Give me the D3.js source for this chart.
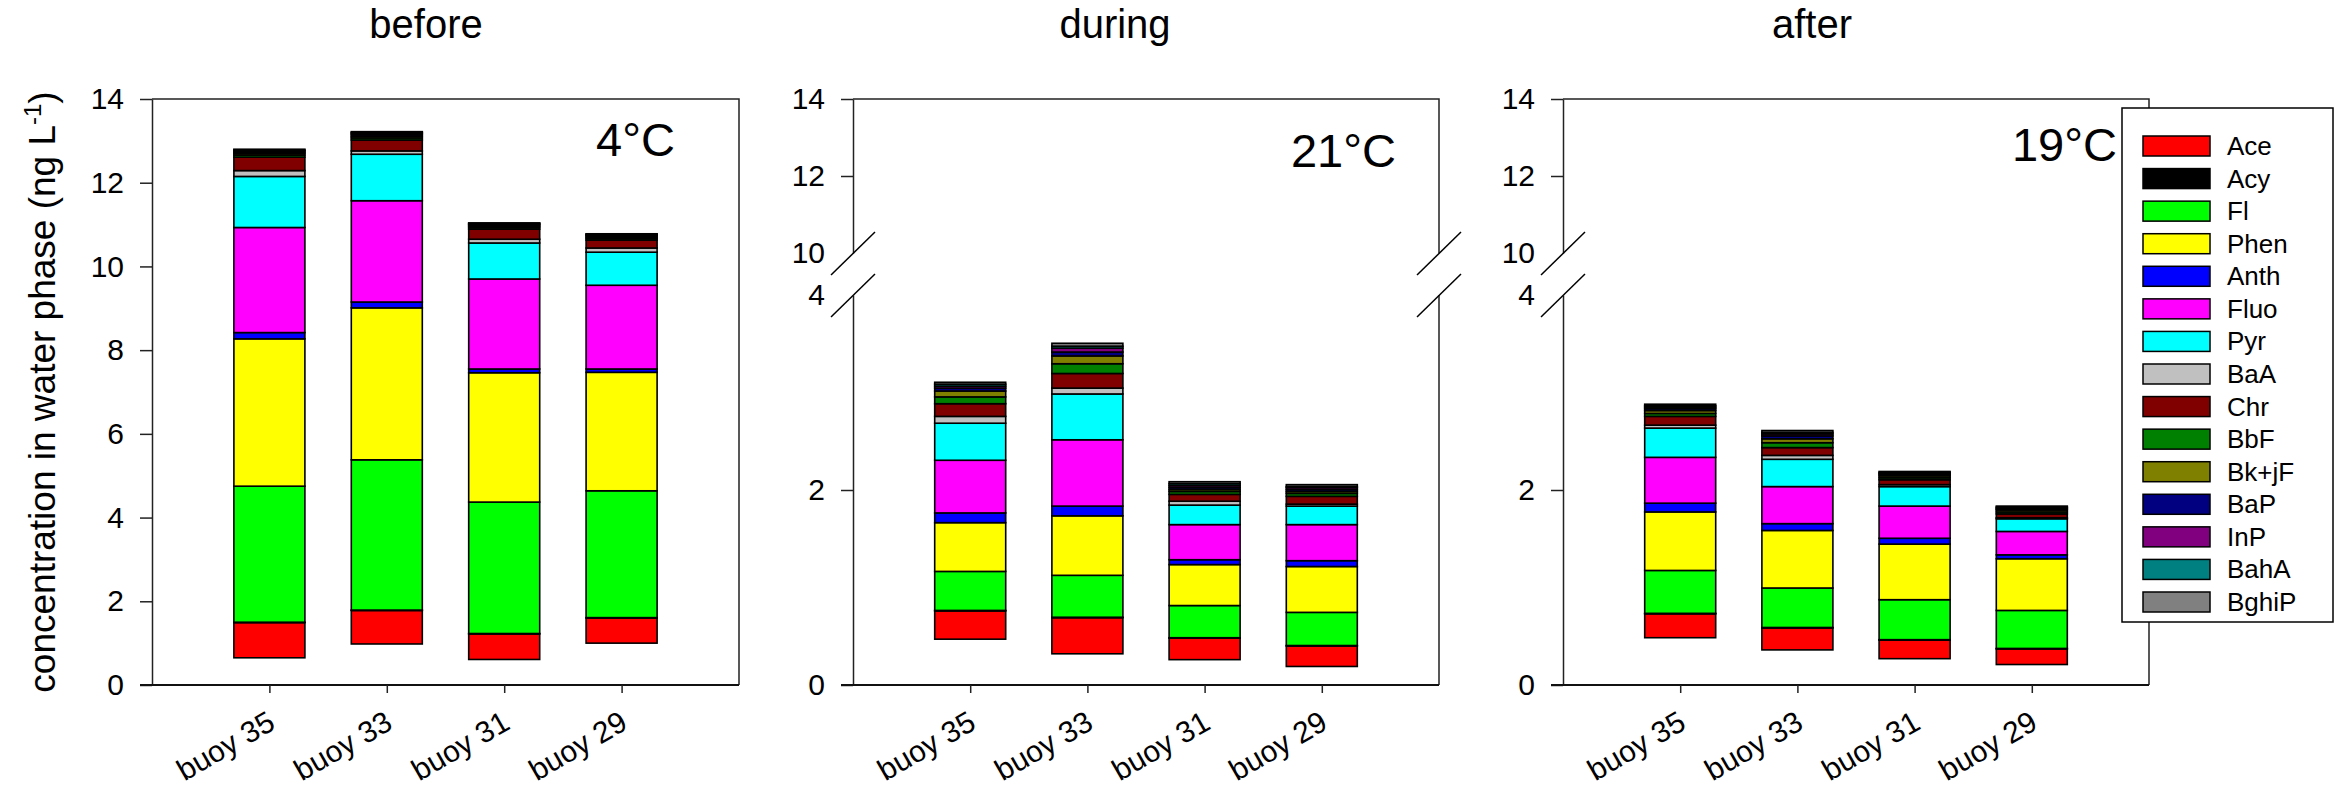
<!DOCTYPE html>
<html>
<head>
<meta charset="utf-8">
<script src="https://cdn.jsdelivr.net/npm/d3@7"></script>
<style>
  body { margin: 0; background: #fff; }
  svg { display: block; font-family: "Liberation Sans", Arial, sans-serif; }
</style>
</head>
<body>
<svg id="chart" width="2346" height="788"></svg>
<script>
const compounds = ["Ace", "Acy", "Fl", "Phen", "Anth", "Fluo", "Pyr", "BaA", "Chr", "BbF", "Bk+jF", "BaP", "InP", "BahA", "BghiP"];
const colors = ["#ff0000", "#000000", "#00ff00", "#ffff00", "#0000ff", "#ff00ff", "#00ffff", "#c0c0c0",
    "#800000", "#008000", "#808000", "#000080", "#800080", "#008080", "#808080"];
const buoys = ["buoy 35", "buoy 33", "buoy 31", "buoy 29"];
const periods = ["before", "during", "after"];
const temps = ["4°C", "21°C", "19°C"];

// unfilled lower part of each bar (bars do not start at zero)
const baseBefore = [0.65, 0.98, 0.61, 1.00];
const baseDuring = [0.47, 0.32, 0.26, 0.19];
const baseAfter = [0.485, 0.36, 0.27, 0.21];

// one row per compound, one value per buoy (ng/L)
const before = [
    [0.84, 0.80, 0.61, 0.60],
    [0.01, 0.01, 0.01, 0.01],
    [3.25, 3.59, 3.14, 3.03],
    [3.52, 3.63, 3.09, 2.83],
    [0.15, 0.14, 0.09, 0.08],
    [2.51, 2.42, 2.15, 2.00],
    [1.22, 1.11, 0.86, 0.79],
    [0.14, 0.08, 0.09, 0.10],
    [0.32, 0.26, 0.24, 0.19],
    [0.05, 0.05, 0.04, 0.04],
    [0.04, 0.04, 0.03, 0.03],
    [0.03, 0.04, 0.03, 0.03],
    [0.03, 0.03, 0.02, 0.02],
    [0.02, 0.02, 0.02, 0.02],
    [0.02, 0.02, 0.01, 0.01]
];
const during = [
    [0.29, 0.37, 0.22, 0.21],
    [0.005, 0.005, 0.005, 0.005],
    [0.40, 0.43, 0.33, 0.34],
    [0.50, 0.61, 0.42, 0.47],
    [0.10, 0.10, 0.05, 0.06],
    [0.54, 0.68, 0.36, 0.37],
    [0.38, 0.47, 0.20, 0.19],
    [0.07, 0.06, 0.04, 0.02],
    [0.13, 0.15, 0.07, 0.08],
    [0.07, 0.10, 0.03, 0.03],
    [0.06, 0.08, 0.02, 0.02],
    [0.03, 0.04, 0.02, 0.02],
    [0.02, 0.04, 0.02, 0.02],
    [0.02, 0.02, 0.02, 0.01],
    [0.02, 0.03, 0.02, 0.02]
];
const after = [
    [0.245, 0.225, 0.19, 0.16],
    [0.005, 0.005, 0.005, 0.005],
    [0.44, 0.405, 0.41, 0.39],
    [0.60, 0.59, 0.57, 0.53],
    [0.09, 0.07, 0.06, 0.04],
    [0.47, 0.38, 0.33, 0.24],
    [0.30, 0.28, 0.20, 0.13],
    [0.03, 0.04, 0.02, 0.01],
    [0.09, 0.08, 0.05, 0.04],
    [0.03, 0.05, 0.02, 0.02],
    [0.03, 0.04, 0.02, 0.02],
    [0.02, 0.03, 0.015, 0.01],
    [0.015, 0.02, 0.01, 0.01],
    [0.015, 0.015, 0.01, 0.01],
    [0.015, 0.02, 0.01, 0.01]
];

const yTicksFull = [0, 2, 4, 6, 8, 10, 12, 14];
const yTicksLow = [0, 2, 4];
const yTicksHigh = [10, 12, 14];

const svg = d3.select('#chart');
svg.append('rect').attr('width', 2346).attr('height', 788).attr('fill', '#fff');

const plotTop = 99, plotBottom = 685;
const panels = [
    {left: 152, right: 739, data: before, base: baseBefore, broken: false, titleX: 426, tempX: 675, tempY: 156},
    {left: 853, right: 1439, data: during, base: baseDuring, broken: true, titleX: 1115, tempX: 1396, tempY: 167},
    {left: 1563, right: 2149, data: after, base: baseAfter, broken: true, titleX: 1812, tempX: 2117, tempY: 161}
];

const axisColor = '#222';

panels.forEach((p, pi) => {
    const g = svg.append('g');

    const x = d3.scalePoint().domain(buoys).range([p.left, p.right]).padding(1);
    let yLow, yHigh;
    if (p.broken) {
        yLow = d3.scaleLinear().domain([0, 4]).range([plotBottom, 295]);
        yHigh = d3.scaleLinear().domain([10, 14]).range([253, plotTop]);
    } else {
        yLow = d3.scaleLinear().domain([0, 14]).range([plotBottom, plotTop]);
    }

    // build table and stack
    const keys = ['base'].concat(compounds);
    const table = buoys.map((b, i) => {
        const row = {buoy: b, base: p.base[i]};
        compounds.forEach((c, ci) => { row[c] = p.data[ci][i]; });
        return row;
    });
    const series = d3.stack().keys(keys)(table);

    const barW = 71;
    series.slice(1).forEach((s, si) => {
        g.append('g')
            .selectAll('rect')
            .data(s)
            .join('rect')
            .attr('x', d => x(d.data.buoy) - barW / 2)
            .attr('y', d => yLow(d[1]))
            .attr('width', barW)
            .attr('height', d => yLow(d[0]) - yLow(d[1]))
            .attr('fill', colors[si])
            .attr('stroke', '#000')
            .attr('stroke-width', 1.6);
    });

    // frame: top and right
    if (p.broken) {
        g.append('path')
            .attr('d', `M${p.left},${plotTop}H${p.right}V${yHigh(10)}M${p.right},${yLow(4)}V${plotBottom}`)
            .attr('fill', 'none').attr('stroke', axisColor).attr('stroke-width', 1.5);
    } else {
        g.append('path')
            .attr('d', `M${p.left},${plotTop}H${p.right}V${plotBottom}`)
            .attr('fill', 'none').attr('stroke', axisColor).attr('stroke-width', 1.5);
    }

    // y axis
    const styleAxis = sel => {
        sel.select('.domain').attr('stroke', axisColor).attr('stroke-width', 1.5);
        sel.selectAll('.tick line').attr('stroke', axisColor).attr('stroke-width', 1.5);
        sel.selectAll('.tick text').attr('font-size', 30).attr('fill', '#000')
            .attr('font-family', '"Liberation Sans", Arial, sans-serif');
    };
    if (p.broken) {
        const gl = g.append('g').attr('transform', `translate(${p.left},0)`)
            .call(d3.axisLeft(yLow).tickValues(yTicksLow).tickSize(12).tickSizeOuter(0).tickPadding(16).tickFormat(d3.format('d')))
            .call(styleAxis);
        gl.selectAll('.tick').filter(d => d === 4).select('line').remove();
        const gh = g.append('g').attr('transform', `translate(${p.left},0)`)
            .call(d3.axisLeft(yHigh).tickValues(yTicksHigh).tickSize(12).tickSizeOuter(0).tickPadding(16).tickFormat(d3.format('d')))
            .call(styleAxis);
        gh.selectAll('.tick').filter(d => d === 10).select('line').remove();

        // break marks
        const marks = [p.left, p.right];
        marks.forEach(mx => {
            [yHigh(10), yLow(4)].forEach(my => {
                g.append('line')
                    .attr('x1', mx - 22).attr('y1', my + 22)
                    .attr('x2', mx + 22).attr('y2', my - 21)
                    .attr('stroke', '#000').attr('stroke-width', 1.5);
            });
        });
    } else {
        g.append('g').attr('transform', `translate(${p.left},0)`)
            .call(d3.axisLeft(yLow).tickValues(yTicksFull).tickSize(12).tickSizeOuter(0).tickPadding(16).tickFormat(d3.format('d')))
            .call(styleAxis);
    }

    // x axis
    const gx = g.append('g').attr('transform', `translate(0,${plotBottom})`)
        .call(d3.axisBottom(x).tickSize(8).tickSizeOuter(0));
    gx.select('.domain').attr('stroke', '#111').attr('stroke-width', 2.2)
        .attr('d', `M${p.left - 12},0H${p.right}`);
    gx.selectAll('.tick line').attr('stroke', axisColor).attr('stroke-width', 1.5);
    gx.selectAll('.tick text')
        .attr('font-size', 30).attr('fill', '#000')
        .attr('font-family', '"Liberation Sans", Arial, sans-serif')
        .attr('text-anchor', 'end')
        .attr('y', 0).attr('dy', 0)
        .attr('transform', 'translate(7,43) rotate(-30)');

    // panel title
    svg.append('text')
        .attr('x', p.titleX).attr('y', 38)
        .attr('text-anchor', 'middle')
        .attr('font-size', 40)
        .text(periods[pi]);

    // temperature
    svg.append('text')
        .attr('x', p.tempX).attr('y', p.tempY)
        .attr('text-anchor', 'end')
        .attr('font-size', 47)
        .text(temps[pi]);
});

// y axis title
const yTitle = svg.append('text')
    .attr('transform', 'translate(55,392) rotate(-90)')
    .attr('text-anchor', 'middle')
    .attr('font-size', 37);
yTitle.append('tspan').text('concentration in water phase (ng L');
yTitle.append('tspan').attr('font-size', 24).attr('dy', -14).text('-1');
yTitle.append('tspan').attr('dy', 14).text(')');

// legend
const legend = svg.append('g');
legend.append('rect')
    .attr('x', 2122).attr('y', 108).attr('width', 211).attr('height', 514)
    .attr('fill', '#fff').attr('stroke', '#000').attr('stroke-width', 1.5);
const ly = d3.scalePoint().domain(compounds).range([146, 602]);
compounds.forEach((c, i) => {
    legend.append('rect')
        .attr('x', 2143).attr('y', ly(c) - 10)
        .attr('width', 67).attr('height', 20)
        .attr('fill', colors[i]).attr('stroke', '#000').attr('stroke-width', 1.5);
    legend.append('text')
        .attr('x', 2227).attr('y', ly(c) + 9)
        .attr('font-size', 26)
        .text(c);
});
</script>
</body>
</html>
